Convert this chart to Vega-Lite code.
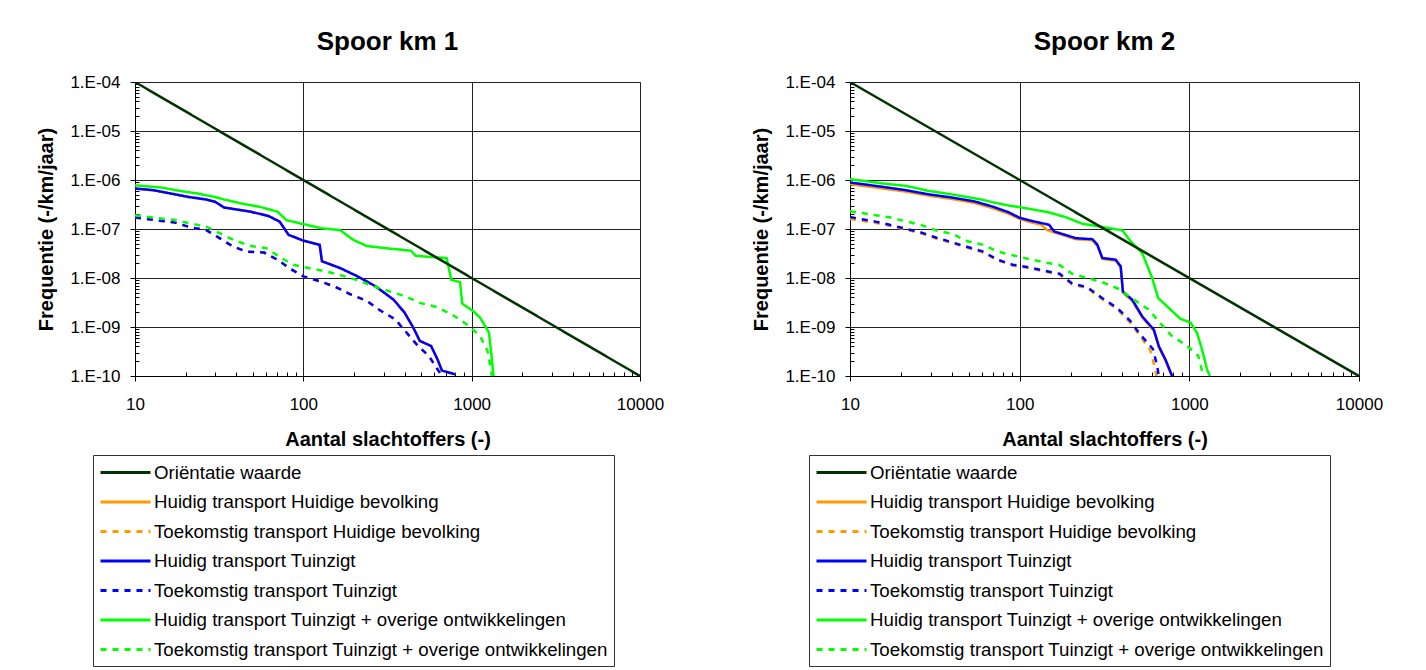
{
  "$schema": "https://vega.github.io/schema/vega-lite/v6.json",
  "background": "white",
  "padding": {"left": 36, "top": 28, "right": 0, "bottom": 0},
  "datasets": {
    "series": [
      {"serie": "O", "name": "Oriëntatie waarde"},
      {"serie": "HB", "name": "Huidig transport Huidige bevolking"},
      {"serie": "TB", "name": "Toekomstig transport Huidige bevolking"},
      {"serie": "HT", "name": "Huidig transport Tuinzigt"},
      {"serie": "TT", "name": "Toekomstig transport Tuinzigt"},
      {"serie": "HO", "name": "Huidig transport Tuinzigt + overige ontwikkelingen"},
      {"serie": "TO", "name": "Toekomstig transport Tuinzigt + overige ontwikkelingen"}
    ],
    "curves": [
      {"panel":1,"serie":"HB","n":10,"f":6.7e-7},{"panel":1,"serie":"HB","n":12.8,"f":6.2e-7},{"panel":1,"serie":"HB","n":16.3,"f":5.3e-7},{"panel":1,"serie":"HB","n":20.8,"f":4.5e-7},{"panel":1,"serie":"HB","n":26.5,"f":4.0e-7},{"panel":1,"serie":"HB","n":29.9,"f":3.6e-7},{"panel":1,"serie":"HB","n":33.8,"f":2.75e-7},{"panel":1,"serie":"HB","n":48.8,"f":2.25e-7},{"panel":1,"serie":"HB","n":62.2,"f":1.84e-7},{"panel":1,"serie":"HB","n":72.4,"f":1.41e-7},{"panel":1,"serie":"HB","n":81.7,"f":7.6e-8},{"panel":1,"serie":"HB","n":100,"f":5.8e-8},{"panel":1,"serie":"HB","n":125,"f":4.75e-8},{"panel":1,"serie":"HB","n":129,"f":2.2e-8},{"panel":1,"serie":"HB","n":165,"f":1.6e-8},{"panel":1,"serie":"HB","n":210,"f":1.08e-8},{"panel":1,"serie":"HB","n":268,"f":6.8e-9},{"panel":1,"serie":"HB","n":344,"f":3.6e-9},{"panel":1,"serie":"HB","n":400,"f":1.95e-9},{"panel":1,"serie":"HB","n":450,"f":9.7e-10},{"panel":1,"serie":"HB","n":492,"f":5.2e-10},{"panel":1,"serie":"HB","n":574,"f":4.1e-10},{"panel":1,"serie":"HB","n":626,"f":2.2e-10},{"panel":1,"serie":"HB","n":666,"f":1.29e-10},{"panel":1,"serie":"HB","n":800,"f":1.08e-10},
      {"panel":1,"serie":"TB","n":10,"f":1.72e-7},{"panel":1,"serie":"TB","n":14,"f":1.48e-7},{"panel":1,"serie":"TB","n":17.3,"f":1.35e-7},{"panel":1,"serie":"TB","n":21.4,"f":1.08e-7},{"panel":1,"serie":"TB","n":26.5,"f":9.5e-8},{"panel":1,"serie":"TB","n":31.8,"f":6.5e-8},{"panel":1,"serie":"TB","n":38.2,"f":4.4e-8},{"panel":1,"serie":"TB","n":45.8,"f":3.47e-8},{"panel":1,"serie":"TB","n":58.5,"f":3.3e-8},{"panel":1,"serie":"TB","n":70.3,"f":2.35e-8},{"panel":1,"serie":"TB","n":84.3,"f":1.52e-8},{"panel":1,"serie":"TB","n":100,"f":1.08e-8},{"panel":1,"serie":"TB","n":125,"f":8.6e-9},{"panel":1,"serie":"TB","n":155,"f":6.6e-9},{"panel":1,"serie":"TB","n":192,"f":4.6e-9},{"panel":1,"serie":"TB","n":238,"f":3.4e-9},{"panel":1,"serie":"TB","n":285,"f":2.2e-9},{"panel":1,"serie":"TB","n":352,"f":1.43e-9},{"panel":1,"serie":"TB","n":410,"f":7.7e-10},{"panel":1,"serie":"TB","n":480,"f":4.1e-10},{"panel":1,"serie":"TB","n":557,"f":2.57e-10},{"panel":1,"serie":"TB","n":608,"f":1.6e-10},{"panel":1,"serie":"TB","n":666,"f":1e-10},
      {"panel":1,"serie":"HT","n":10,"f":6.7e-7},{"panel":1,"serie":"HT","n":12.8,"f":6.2e-7},{"panel":1,"serie":"HT","n":16.3,"f":5.3e-7},{"panel":1,"serie":"HT","n":20.8,"f":4.5e-7},{"panel":1,"serie":"HT","n":26.5,"f":4.0e-7},{"panel":1,"serie":"HT","n":29.9,"f":3.6e-7},{"panel":1,"serie":"HT","n":33.8,"f":2.75e-7},{"panel":1,"serie":"HT","n":48.8,"f":2.25e-7},{"panel":1,"serie":"HT","n":62.2,"f":1.84e-7},{"panel":1,"serie":"HT","n":72.4,"f":1.41e-7},{"panel":1,"serie":"HT","n":81.7,"f":7.6e-8},{"panel":1,"serie":"HT","n":100,"f":5.8e-8},{"panel":1,"serie":"HT","n":125,"f":4.75e-8},{"panel":1,"serie":"HT","n":129,"f":2.2e-8},{"panel":1,"serie":"HT","n":165,"f":1.6e-8},{"panel":1,"serie":"HT","n":210,"f":1.08e-8},{"panel":1,"serie":"HT","n":268,"f":6.8e-9},{"panel":1,"serie":"HT","n":344,"f":3.6e-9},{"panel":1,"serie":"HT","n":400,"f":1.95e-9},{"panel":1,"serie":"HT","n":450,"f":9.7e-10},{"panel":1,"serie":"HT","n":492,"f":5.2e-10},{"panel":1,"serie":"HT","n":574,"f":4.1e-10},{"panel":1,"serie":"HT","n":626,"f":2.2e-10},{"panel":1,"serie":"HT","n":666,"f":1.29e-10},{"panel":1,"serie":"HT","n":800,"f":1.08e-10},
      {"panel":1,"serie":"TT","n":10,"f":1.72e-7},{"panel":1,"serie":"TT","n":14,"f":1.48e-7},{"panel":1,"serie":"TT","n":17.3,"f":1.35e-7},{"panel":1,"serie":"TT","n":21.4,"f":1.08e-7},{"panel":1,"serie":"TT","n":26.5,"f":9.5e-8},{"panel":1,"serie":"TT","n":31.8,"f":6.5e-8},{"panel":1,"serie":"TT","n":38.2,"f":4.4e-8},{"panel":1,"serie":"TT","n":45.8,"f":3.47e-8},{"panel":1,"serie":"TT","n":58.5,"f":3.3e-8},{"panel":1,"serie":"TT","n":70.3,"f":2.35e-8},{"panel":1,"serie":"TT","n":84.3,"f":1.52e-8},{"panel":1,"serie":"TT","n":100,"f":1.08e-8},{"panel":1,"serie":"TT","n":125,"f":8.6e-9},{"panel":1,"serie":"TT","n":155,"f":6.6e-9},{"panel":1,"serie":"TT","n":192,"f":4.6e-9},{"panel":1,"serie":"TT","n":238,"f":3.4e-9},{"panel":1,"serie":"TT","n":285,"f":2.2e-9},{"panel":1,"serie":"TT","n":352,"f":1.43e-9},{"panel":1,"serie":"TT","n":410,"f":7.7e-10},{"panel":1,"serie":"TT","n":480,"f":4.1e-10},{"panel":1,"serie":"TT","n":557,"f":2.57e-10},{"panel":1,"serie":"TT","n":608,"f":1.6e-10},{"panel":1,"serie":"TT","n":666,"f":1e-10},
      {"panel":1,"serie":"HO","n":10,"f":7.8e-7},{"panel":1,"serie":"HO","n":14.4,"f":7.0e-7},{"panel":1,"serie":"HO","n":18.4,"f":6.0e-7},{"panel":1,"serie":"HO","n":23.5,"f":5.3e-7},{"panel":1,"serie":"HO","n":29.9,"f":4.5e-7},{"panel":1,"serie":"HO","n":33.8,"f":4.0e-7},{"panel":1,"serie":"HO","n":43.1,"f":3.3e-7},{"panel":1,"serie":"HO","n":55.1,"f":2.84e-7},{"panel":1,"serie":"HO","n":70.3,"f":2.25e-7},{"panel":1,"serie":"HO","n":79.3,"f":1.52e-7},{"panel":1,"serie":"HO","n":100,"f":1.26e-7},{"panel":1,"serie":"HO","n":129,"f":1.03e-7},{"panel":1,"serie":"HO","n":165,"f":9.5e-8},{"panel":1,"serie":"HO","n":198,"f":6.0e-8},{"panel":1,"serie":"HO","n":238,"f":4.5e-8},{"panel":1,"serie":"HO","n":322,"f":4.0e-8},{"panel":1,"serie":"HO","n":437,"f":3.6e-8},{"panel":1,"serie":"HO","n":464,"f":2.84e-8},{"panel":1,"serie":"HO","n":711,"f":2.54e-8},{"panel":1,"serie":"HO","n":756,"f":9.2e-9},{"panel":1,"serie":"HO","n":853,"f":8.2e-9},{"panel":1,"serie":"HO","n":879,"f":3.0e-9},{"panel":1,"serie":"HO","n":1024,"f":2.1e-9},{"panel":1,"serie":"HO","n":1122,"f":1.55e-9},{"panel":1,"serie":"HO","n":1267,"f":7.7e-10},{"panel":1,"serie":"HO","n":1306,"f":3.0e-10},{"panel":1,"serie":"HO","n":1348,"f":1e-10},
      {"panel":1,"serie":"TO","n":10,"f":1.9e-7},{"panel":1,"serie":"TO","n":17.3,"f":1.52e-7},{"panel":1,"serie":"TO","n":21.4,"f":1.3e-7},{"panel":1,"serie":"TO","n":26.5,"f":1.12e-7},{"panel":1,"serie":"TO","n":31.8,"f":8.2e-8},{"panel":1,"serie":"TO","n":39.4,"f":5.8e-8},{"panel":1,"serie":"TO","n":48.8,"f":4.5e-8},{"panel":1,"serie":"TO","n":60.4,"f":4.05e-8},{"panel":1,"serie":"TO","n":72.4,"f":2.67e-8},{"panel":1,"serie":"TO","n":87,"f":1.86e-8},{"panel":1,"serie":"TO","n":107,"f":1.6e-8},{"panel":1,"serie":"TO","n":137,"f":1.36e-8},{"panel":1,"serie":"TO","n":170,"f":1.12e-8},{"panel":1,"serie":"TO","n":210,"f":9.0e-9},{"panel":1,"serie":"TO","n":260,"f":6.8e-9},{"panel":1,"serie":"TO","n":322,"f":5.4e-9},{"panel":1,"serie":"TO","n":400,"f":4.3e-9},{"panel":1,"serie":"TO","n":492,"f":3.1e-9},{"panel":1,"serie":"TO","n":610,"f":2.6e-9},{"panel":1,"serie":"TO","n":764,"f":1.8e-9},{"panel":1,"serie":"TO","n":935,"f":1.13e-9},{"panel":1,"serie":"TO","n":1120,"f":6.6e-10},{"panel":1,"serie":"TO","n":1240,"f":3.3e-10},{"panel":1,"serie":"TO","n":1300,"f":1.4e-10},{"panel":1,"serie":"TO","n":1320,"f":1e-10},
      {"panel":1,"serie":"O","n":10,"f":1e-4},{"panel":1,"serie":"O","n":10000,"f":1e-10},
      {"panel":2,"serie":"HB","n":10,"f":8.2e-7},{"panel":2,"serie":"HB","n":15.6,"f":6.7e-7},{"panel":2,"serie":"HB","n":21.3,"f":5.8e-7},{"panel":2,"serie":"HB","n":29.1,"f":4.8e-7},{"panel":2,"serie":"HB","n":39.7,"f":4.1e-7},{"panel":2,"serie":"HB","n":54.1,"f":3.4e-7},{"panel":2,"serie":"HB","n":69.4,"f":2.65e-7},{"panel":2,"serie":"HB","n":86,"f":2.05e-7},{"panel":2,"serie":"HB","n":100,"f":1.6e-7},{"panel":2,"serie":"HB","n":114,"f":1.4e-7},{"panel":2,"serie":"HB","n":135,"f":1.2e-7},{"panel":2,"serie":"HB","n":145,"f":9.5e-8},{"panel":2,"serie":"HB","n":160,"f":8.5e-8},{"panel":2,"serie":"HB","n":214,"f":6.2e-8},{"panel":2,"serie":"HB","n":268,"f":5.9e-8},{"panel":2,"serie":"HB","n":287,"f":4.5e-8},{"panel":2,"serie":"HB","n":307,"f":2.45e-8},{"panel":2,"serie":"HB","n":368,"f":2.25e-8},{"panel":2,"serie":"HB","n":394,"f":1.65e-8},{"panel":2,"serie":"HB","n":406,"f":5.0e-9},{"panel":2,"serie":"HB","n":461,"f":3.4e-9},{"panel":2,"serie":"HB","n":528,"f":1.55e-9},{"panel":2,"serie":"HB","n":618,"f":8.3e-10},{"panel":2,"serie":"HB","n":662,"f":3.8e-10},{"panel":2,"serie":"HB","n":724,"f":2.05e-10},{"panel":2,"serie":"HB","n":785,"f":1e-10},
      {"panel":2,"serie":"TB","n":10,"f":1.6e-7},{"panel":2,"serie":"TB","n":13.9,"f":1.35e-7},{"panel":2,"serie":"TB","n":17.1,"f":1.17e-7},{"panel":2,"serie":"TB","n":21.4,"f":9.7e-8},{"panel":2,"serie":"TB","n":26.2,"f":8.2e-8},{"panel":2,"serie":"TB","n":32.1,"f":6.4e-8},{"panel":2,"serie":"TB","n":40.3,"f":5.1e-8},{"panel":2,"serie":"TB","n":49.3,"f":4.15e-8},{"panel":2,"serie":"TB","n":60.4,"f":3.35e-8},{"panel":2,"serie":"TB","n":74,"f":2.3e-8},{"panel":2,"serie":"TB","n":90.8,"f":1.8e-8},{"panel":2,"serie":"TB","n":114,"f":1.6e-8},{"panel":2,"serie":"TB","n":139,"f":1.36e-8},{"panel":2,"serie":"TB","n":172,"f":1.18e-8},{"panel":2,"serie":"TB","n":204,"f":7.4e-9},{"panel":2,"serie":"TB","n":250,"f":6.2e-9},{"panel":2,"serie":"TB","n":306,"f":3.7e-9},{"panel":2,"serie":"TB","n":376,"f":2.3e-9},{"panel":2,"serie":"TB","n":451,"f":1.2e-9},{"panel":2,"serie":"TB","n":514,"f":6.4e-10},{"panel":2,"serie":"TB","n":590,"f":3.3e-10},{"panel":2,"serie":"TB","n":625,"f":1.5e-10},{"panel":2,"serie":"TB","n":640,"f":1e-10},
      {"panel":2,"serie":"HT","n":10,"f":8.9e-7},{"panel":2,"serie":"HT","n":15.6,"f":7.25e-7},{"panel":2,"serie":"HT","n":21.3,"f":6.2e-7},{"panel":2,"serie":"HT","n":29.1,"f":5.1e-7},{"panel":2,"serie":"HT","n":39.7,"f":4.4e-7},{"panel":2,"serie":"HT","n":54.1,"f":3.66e-7},{"panel":2,"serie":"HT","n":69.4,"f":2.86e-7},{"panel":2,"serie":"HT","n":86,"f":2.2e-7},{"panel":2,"serie":"HT","n":100,"f":1.69e-7},{"panel":2,"serie":"HT","n":114,"f":1.5e-7},{"panel":2,"serie":"HT","n":149,"f":1.22e-7},{"panel":2,"serie":"HT","n":160,"f":8.9e-8},{"panel":2,"serie":"HT","n":214,"f":6.5e-8},{"panel":2,"serie":"HT","n":268,"f":6.2e-8},{"panel":2,"serie":"HT","n":287,"f":4.8e-8},{"panel":2,"serie":"HT","n":307,"f":2.56e-8},{"panel":2,"serie":"HT","n":368,"f":2.36e-8},{"panel":2,"serie":"HT","n":394,"f":1.73e-8},{"panel":2,"serie":"HT","n":406,"f":5.3e-9},{"panel":2,"serie":"HT","n":461,"f":3.6e-9},{"panel":2,"serie":"HT","n":528,"f":1.64e-9},{"panel":2,"serie":"HT","n":618,"f":8.8e-10},{"panel":2,"serie":"HT","n":662,"f":4.0e-10},{"panel":2,"serie":"HT","n":724,"f":2.15e-10},{"panel":2,"serie":"HT","n":792,"f":1e-10},
      {"panel":2,"serie":"TT","n":10,"f":1.75e-7},{"panel":2,"serie":"TT","n":13.9,"f":1.43e-7},{"panel":2,"serie":"TT","n":17.1,"f":1.22e-7},{"panel":2,"serie":"TT","n":21.4,"f":1.01e-7},{"panel":2,"serie":"TT","n":26.2,"f":8.5e-8},{"panel":2,"serie":"TT","n":32.1,"f":6.7e-8},{"panel":2,"serie":"TT","n":40.3,"f":5.3e-8},{"panel":2,"serie":"TT","n":49.3,"f":4.3e-8},{"panel":2,"serie":"TT","n":60.4,"f":3.5e-8},{"panel":2,"serie":"TT","n":74,"f":2.36e-8},{"panel":2,"serie":"TT","n":90.8,"f":1.87e-8},{"panel":2,"serie":"TT","n":114,"f":1.65e-8},{"panel":2,"serie":"TT","n":139,"f":1.41e-8},{"panel":2,"serie":"TT","n":172,"f":1.22e-8},{"panel":2,"serie":"TT","n":204,"f":7.7e-9},{"panel":2,"serie":"TT","n":250,"f":6.5e-9},{"panel":2,"serie":"TT","n":306,"f":3.9e-9},{"panel":2,"serie":"TT","n":376,"f":2.44e-9},{"panel":2,"serie":"TT","n":451,"f":1.3e-9},{"panel":2,"serie":"TT","n":514,"f":7.0e-10},{"panel":2,"serie":"TT","n":610,"f":3.56e-10},{"panel":2,"serie":"TT","n":647,"f":1.58e-10},{"panel":2,"serie":"TT","n":660,"f":1e-10},
      {"panel":2,"serie":"HO","n":10,"f":1.04e-6},{"panel":2,"serie":"HO","n":15.6,"f":8.5e-7},{"panel":2,"serie":"HO","n":21.3,"f":7.6e-7},{"panel":2,"serie":"HO","n":29.1,"f":6.0e-7},{"panel":2,"serie":"HO","n":39.7,"f":5.1e-7},{"panel":2,"serie":"HO","n":60.4,"f":3.96e-7},{"panel":2,"serie":"HO","n":69.4,"f":3.5e-7},{"panel":2,"serie":"HO","n":89,"f":2.95e-7},{"panel":2,"serie":"HO","n":100,"f":2.8e-7},{"panel":2,"serie":"HO","n":149,"f":2.18e-7},{"panel":2,"serie":"HO","n":187,"f":1.74e-7},{"panel":2,"serie":"HO","n":234,"f":1.28e-7},{"panel":2,"serie":"HO","n":307,"f":1.1e-7},{"panel":2,"serie":"HO","n":403,"f":9.4e-8},{"panel":2,"serie":"HO","n":451,"f":5.6e-8},{"panel":2,"serie":"HO","n":528,"f":3.2e-8},{"panel":2,"serie":"HO","n":604,"f":1.0e-8},{"panel":2,"serie":"HO","n":655,"f":3.9e-9},{"panel":2,"serie":"HO","n":757,"f":2.44e-9},{"panel":2,"serie":"HO","n":887,"f":1.46e-9},{"panel":2,"serie":"HO","n":1016,"f":1.24e-9},{"panel":2,"serie":"HO","n":1111,"f":7.5e-10},{"panel":2,"serie":"HO","n":1190,"f":3.4e-10},{"panel":2,"serie":"HO","n":1273,"f":1.35e-10},{"panel":2,"serie":"HO","n":1320,"f":1e-10},
      {"panel":2,"serie":"TO","n":10,"f":2.3e-7},{"panel":2,"serie":"TO","n":17.1,"f":1.73e-7},{"panel":2,"serie":"TO","n":26.2,"f":1.21e-7},{"panel":2,"serie":"TO","n":32.1,"f":9.4e-8},{"panel":2,"serie":"TO","n":40.3,"f":7.9e-8},{"panel":2,"serie":"TO","n":49.3,"f":5.6e-8},{"panel":2,"serie":"TO","n":60.4,"f":4.8e-8},{"panel":2,"serie":"TO","n":74,"f":3.5e-8},{"panel":2,"serie":"TO","n":90.8,"f":2.9e-8},{"panel":2,"serie":"TO","n":114,"f":2.44e-8},{"panel":2,"serie":"TO","n":139,"f":2.09e-8},{"panel":2,"serie":"TO","n":172,"f":1.84e-8},{"panel":2,"serie":"TO","n":204,"f":1.22e-8},{"panel":2,"serie":"TO","n":250,"f":1.0e-8},{"panel":2,"serie":"TO","n":310,"f":8.1e-9},{"panel":2,"serie":"TO","n":385,"f":5.97e-9},{"panel":2,"serie":"TO","n":472,"f":3.6e-9},{"panel":2,"serie":"TO","n":578,"f":2.25e-9},{"panel":2,"serie":"TO","n":677,"f":1.17e-9},{"panel":2,"serie":"TO","n":786,"f":6.6e-10},{"panel":2,"serie":"TO","n":963,"f":4.2e-10},{"panel":2,"serie":"TO","n":1128,"f":2.6e-10},{"panel":2,"serie":"TO","n":1190,"f":1.24e-10},{"panel":2,"serie":"TO","n":1210,"f":1e-10},
      {"panel":2,"serie":"O","n":10,"f":1e-4},{"panel":2,"serie":"O","n":10000,"f":1e-10}
    ]
  },
  "data": {"name": "curves"},
  "transform": [
    {"lookup": "serie", "from": {"data": {"name": "series"}, "key": "serie", "fields": ["name"]}}
  ],
  "spacing": 86,
  "hconcat": [
    {
      "width": 505,
      "height": 294,
      "title": "Spoor km 1",
      "transform": [{"filter": "datum.panel == 1"}],
      "mark": {"type": "line", "strokeWidth": 2.5, "clip": true},
      "encoding": {
        "x": {"field": "n", "type": "quantitative",
          "scale": {"type": "log", "domain": [10, 10000], "nice": false},
          "axis": {"title": "Aantal slachtoffers (-)",
            "values": [10,20,30,40,50,60,70,80,90,100,200,300,400,500,600,700,800,900,1000,2000,3000,4000,5000,6000,7000,8000,9000,10000],
            "labelExpr": "abs(log(datum.value)/LN10 - round(log(datum.value)/LN10)) < 0.001 ? '' + round(datum.value) : ''",
            "tickSize": {"condition": {"test": "abs(log(datum.value)/LN10 - round(log(datum.value)/LN10)) > 0.001", "value": -4}, "value": 5},
            "gridOpacity": {"condition": {"test": "abs(log(datum.value)/LN10 - round(log(datum.value)/LN10)) > 0.001", "value": 0}, "value": 1},
            "labelPadding": 15, "titlePadding": 17}},
        "y": {"field": "f", "type": "quantitative",
          "scale": {"type": "log", "domain": [1e-10, 1e-4], "nice": false},
          "axis": {"title": "Frequentie (-/km/jaar)",
            "values": [1e-10,2e-10,3e-10,4e-10,5e-10,6e-10,7e-10,8e-10,9e-10,1e-9,2e-9,3e-9,4e-9,5e-9,6e-9,7e-9,8e-9,9e-9,1e-8,2e-8,3e-8,4e-8,5e-8,6e-8,7e-8,8e-8,9e-8,1e-7,2e-7,3e-7,4e-7,5e-7,6e-7,7e-7,8e-7,9e-7,1e-6,2e-6,3e-6,4e-6,5e-6,6e-6,7e-6,8e-6,9e-6,1e-5,2e-5,3e-5,4e-5,5e-5,6e-5,7e-5,8e-5,9e-5,1e-4],
            "labelExpr": "abs(log(datum.value)/LN10 - round(log(datum.value)/LN10)) < 0.001 ? '1.E-' + (round(-log(datum.value)/LN10) < 10 ? '0' : '') + round(-log(datum.value)/LN10) : ''",
            "tickSize": {"condition": {"test": "abs(log(datum.value)/LN10 - round(log(datum.value)/LN10)) > 0.001", "value": -4}, "value": 5},
            "gridOpacity": {"condition": {"test": "abs(log(datum.value)/LN10 - round(log(datum.value)/LN10)) > 0.001", "value": 0}, "value": 1},
            "labelPadding": 10, "titlePadding": 13}},
        "color": {"field": "name", "type": "nominal",
          "scale": {"domain": ["Oriëntatie waarde","Huidig transport Huidige bevolking","Toekomstig transport Huidige bevolking","Huidig transport Tuinzigt","Toekomstig transport Tuinzigt","Huidig transport Tuinzigt + overige ontwikkelingen","Toekomstig transport Tuinzigt + overige ontwikkelingen"],
            "range": ["#003300","#FF9900","#FF9900","#0000FF","#0000FF","#00FF00","#00FF00"]},
          "legend": {"title": null, "orient": "none", "legendX": -42, "legendY": 373}},
        "strokeDash": {"field": "name", "type": "nominal",
          "scale": {"domain": ["Oriëntatie waarde","Huidig transport Huidige bevolking","Toekomstig transport Huidige bevolking","Huidig transport Tuinzigt","Toekomstig transport Tuinzigt","Huidig transport Tuinzigt + overige ontwikkelingen","Toekomstig transport Tuinzigt + overige ontwikkelingen"],
            "range": [[1,0],[1,0],[6,6],[1,0],[6,6],[1,0],[6,6]]},
          "legend": {"title": null, "orient": "none", "legendX": -42, "legendY": 373}}
      }
    },
    {
      "width": 509,
      "height": 294,
      "title": "Spoor km 2",
      "transform": [{"filter": "datum.panel == 2"}],
      "mark": {"type": "line", "strokeWidth": 2.5, "clip": true},
      "encoding": {
        "x": {"field": "n", "type": "quantitative",
          "scale": {"type": "log", "domain": [10, 10000], "nice": false},
          "axis": {"title": "Aantal slachtoffers (-)",
            "values": [10,20,30,40,50,60,70,80,90,100,200,300,400,500,600,700,800,900,1000,2000,3000,4000,5000,6000,7000,8000,9000,10000],
            "labelExpr": "abs(log(datum.value)/LN10 - round(log(datum.value)/LN10)) < 0.001 ? '' + round(datum.value) : ''",
            "tickSize": {"condition": {"test": "abs(log(datum.value)/LN10 - round(log(datum.value)/LN10)) > 0.001", "value": -4}, "value": 5},
            "gridOpacity": {"condition": {"test": "abs(log(datum.value)/LN10 - round(log(datum.value)/LN10)) > 0.001", "value": 0}, "value": 1},
            "labelPadding": 15, "titlePadding": 17}},
        "y": {"field": "f", "type": "quantitative",
          "scale": {"type": "log", "domain": [1e-10, 1e-4], "nice": false},
          "axis": {"title": "Frequentie (-/km/jaar)",
            "values": [1e-10,2e-10,3e-10,4e-10,5e-10,6e-10,7e-10,8e-10,9e-10,1e-9,2e-9,3e-9,4e-9,5e-9,6e-9,7e-9,8e-9,9e-9,1e-8,2e-8,3e-8,4e-8,5e-8,6e-8,7e-8,8e-8,9e-8,1e-7,2e-7,3e-7,4e-7,5e-7,6e-7,7e-7,8e-7,9e-7,1e-6,2e-6,3e-6,4e-6,5e-6,6e-6,7e-6,8e-6,9e-6,1e-5,2e-5,3e-5,4e-5,5e-5,6e-5,7e-5,8e-5,9e-5,1e-4],
            "labelExpr": "abs(log(datum.value)/LN10 - round(log(datum.value)/LN10)) < 0.001 ? '1.E-' + (round(-log(datum.value)/LN10) < 10 ? '0' : '') + round(-log(datum.value)/LN10) : ''",
            "tickSize": {"condition": {"test": "abs(log(datum.value)/LN10 - round(log(datum.value)/LN10)) > 0.001", "value": -4}, "value": 5},
            "gridOpacity": {"condition": {"test": "abs(log(datum.value)/LN10 - round(log(datum.value)/LN10)) > 0.001", "value": 0}, "value": 1},
            "labelPadding": 10, "titlePadding": 13}},
        "color": {"field": "name", "type": "nominal",
          "scale": {"domain": ["Oriëntatie waarde","Huidig transport Huidige bevolking","Toekomstig transport Huidige bevolking","Huidig transport Tuinzigt","Toekomstig transport Tuinzigt","Huidig transport Tuinzigt + overige ontwikkelingen","Toekomstig transport Tuinzigt + overige ontwikkelingen"],
            "range": ["#003300","#FF9900","#FF9900","#0000FF","#0000FF","#00FF00","#00FF00"]},
          "legend": {"title": null, "orient": "none", "legendX": -41, "legendY": 373}},
        "strokeDash": {"field": "name", "type": "nominal",
          "scale": {"domain": ["Oriëntatie waarde","Huidig transport Huidige bevolking","Toekomstig transport Huidige bevolking","Huidig transport Tuinzigt","Toekomstig transport Tuinzigt","Huidig transport Tuinzigt + overige ontwikkelingen","Toekomstig transport Tuinzigt + overige ontwikkelingen"],
            "range": [[1,0],[1,0],[6,6],[1,0],[6,6],[1,0],[6,6]]},
          "legend": {"title": null, "orient": "none", "legendX": -41, "legendY": 373}}
      }
    }
  ],
  "resolve": {
    "scale": {"color": "independent", "strokeDash": "independent"},
    "legend": {"color": "independent", "strokeDash": "independent"}
  },
  "config": {
    "font": "Liberation Sans",
    "view": {"stroke": "#808080", "strokeWidth": 1},
    "axis": {
      "labelFont": "Liberation Sans", "labelFontSize": 17, "labelColor": "black",
      "titleFont": "Liberation Sans", "titleFontSize": 20, "titleFontWeight": "bold", "titleColor": "black",
      "domainColor": "black", "domainWidth": 1, "tickColor": "black", "tickWidth": 1,
      "gridColor": "#222222", "gridWidth": 1, "labelFlush": false, "labelOverlap": false
    },
    "legend": {
      "direction": "vertical", "strokeColor": "#333333", "fillColor": "white", "padding": 6,
      "symbolType": "M-1,0H4", "symbolSize": 400, "symbolStrokeWidth": 3,
      "labelFont": "Liberation Sans", "labelFontSize": 18.7, "labelColor": "black",
      "labelLimit": 0, "labelOffset": 32, "rowPadding": 7.5
    },
    "title": {"font": "Liberation Sans", "fontSize": 26, "fontWeight": "bold", "color": "black", "anchor": "middle", "frame": "group", "offset": 18}
  }
}
